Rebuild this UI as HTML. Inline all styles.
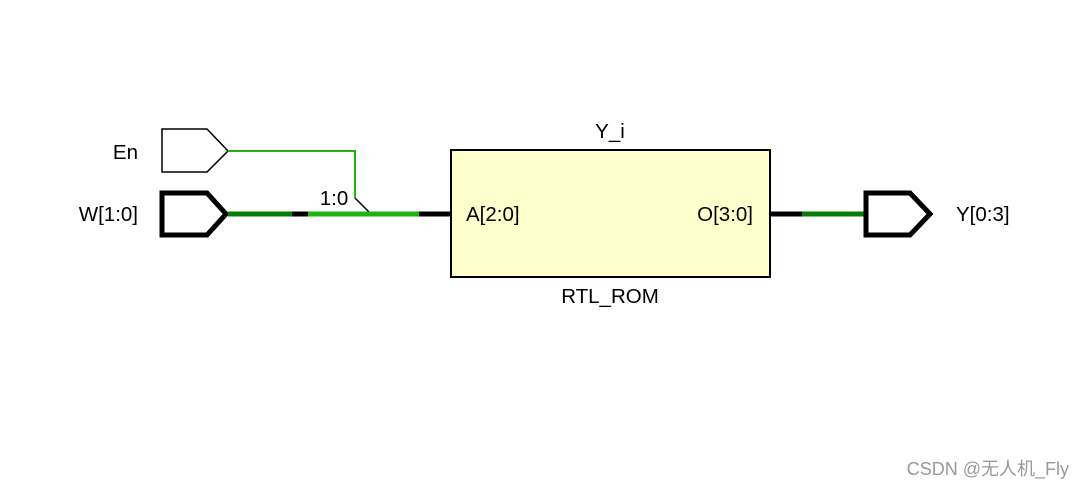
<!DOCTYPE html>
<html><head><meta charset="utf-8"><style>
body{margin:0;background:#fff;width:1085px;height:488px;overflow:hidden}
svg text{font-family:"Liberation Sans",Arial,sans-serif;fill:#000}
</style></head><body>
<svg width="1085" height="488" xmlns="http://www.w3.org/2000/svg">
<rect x="451" y="150" width="319" height="127" fill="#ffffcc" stroke="#000" stroke-width="2"/>
<text x="610" y="138" font-size="20.5" text-anchor="middle">Y_i</text>
<text x="610" y="303" font-size="20.5" text-anchor="middle">RTL_ROM</text>
<text x="466" y="221" font-size="20.5">A[2:0]</text>
<text x="753" y="221" font-size="20.5" text-anchor="end">O[3:0]</text>
<polygon points="162,129 207,129 228,151 207,172 162,172" fill="#fff" stroke="#000" stroke-width="1.5"/>
<text x="138" y="159" font-size="20.5" text-anchor="end">En</text>
<polyline points="228,151 355,151 355,198" fill="none" stroke="#1fb40d" stroke-width="2"/>
<line x1="355" y1="198" x2="370" y2="213" stroke="#000" stroke-width="1.5"/>
<polygon points="162,193 207,193 226,214 207,235 162,235" fill="#fff" stroke="#000" stroke-width="5"/>
<text x="138" y="221" font-size="20.5" text-anchor="end">W[1:0]</text>
<line x1="228" y1="214" x2="292" y2="214" stroke="#067d06" stroke-width="5"/>
<line x1="292" y1="214" x2="308" y2="214" stroke="#000" stroke-width="5"/>
<line x1="308" y1="214" x2="419" y2="214" stroke="#1fb40d" stroke-width="5"/>
<line x1="419" y1="214" x2="451" y2="214" stroke="#000" stroke-width="5"/>
<text x="334" y="205" font-size="20.5" text-anchor="middle">1:0</text>
<line x1="770" y1="214" x2="802" y2="214" stroke="#000" stroke-width="5"/>
<line x1="802" y1="214" x2="865" y2="214" stroke="#067d06" stroke-width="5"/>
<polygon points="866,193 910,193 930,214 910,235 866,235" fill="#fff" stroke="#000" stroke-width="5"/>
<text x="956" y="221" font-size="20.5">Y[0:3]</text>
<text x="1069" y="475" font-size="18" text-anchor="end" style="fill:#999;font-family:'Liberation Sans','Noto Sans CJK SC',sans-serif">CSDN @无人机_Fly</text>
</svg>
</body></html>
